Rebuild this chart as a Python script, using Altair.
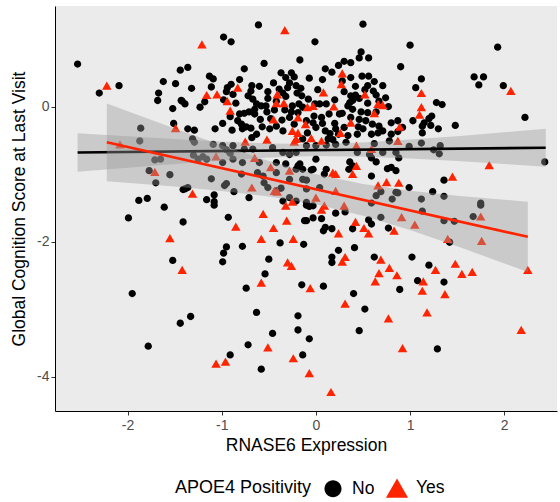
import altair as alt
import pandas as pd

# ---- APOE4 negative ("No") points: (RNASE6 expression, global cognition) ----
no_left = [
    (-2.53, 0.63), (-2.09, 0.31), (-2.30, 0.20), (-1.44, 0.54), (-1.62, 0.37), (-1.49, 0.34), (-1.67, 0.20), (-1.68, 0.09), (-1.43, 0.09), (-1.52, -0.03),
    (-1.51, -0.25), (-1.86, -0.32), (-1.87, -0.51), (-1.71, -0.79), (-1.65, -0.78), (-1.77, -0.95), (-1.55, -1.01), (-1.70, -1.13), (-1.41, -1.23), (-1.88, -1.39),
    (-1.79, -1.36), (-1.61, -1.49), (-1.99, -1.65), (-1.41, -1.71), (-1.52, -2.28), (-1.95, -2.77), (-1.44, -3.21), (-1.78, -3.55), (-1.36, 0.58), (-1.32, 0.27),
    (-1.42, 0.08), (-1.39, 0.04), (-1.23, -0.01), (-1.36, -0.33), (-1.29, -0.35), (-1.31, -0.48), (-1.29, -0.53), (-1.25, -0.78), (-1.30, -0.72), (-1.39, -1.22),
    (-1.36, -1.20), (-1.33, -3.11),
]
no_mid = [
    (-1.18, 0.07), (-1.13, 0.45), (-1.09, 0.41), (-1.11, 0.29), (-0.98, 1.03), (-0.90, 0.96), (-0.61, 1.21), (-0.55, 0.64), (-0.76, 0.56), (-0.81, 0.40),
    (-0.90, 0.33), (-0.94, 0.28), (-0.95, 0.22), (-0.68, 0.31), (-0.69, 0.23), (-0.37, 0.50), (-0.32, 0.43), (-0.26, 0.50), (-0.23, 0.44), (-0.28, 0.35),
    (-0.21, 0.31), (-0.88, 0.18), (-0.51, 0.22), (-0.51, 0.12), (-0.39, 0.26), (-0.35, 0.20), (-0.32, 0.15), (-0.72, 0.16), (-0.67, 0.11), (-0.63, 0.04),
    (-0.65, -0.04), (-0.58, 0.01), (-0.53, 0.01), (-0.52, -0.08), (-0.25, 0.01), (-0.18, 0.04), (-0.26, -0.08), (-0.19, -0.09), (-0.28, -0.16), (-0.81, -0.11),
    (-0.76, -0.10), (-0.71, -0.08), (-0.65, -0.11), (-0.83, -0.21), (-0.79, -0.26), (-0.78, -0.33), (-0.74, -0.30), (-0.69, -0.32), (-0.59, -0.19), (-0.99, -0.25),
    (-1.07, -0.33), (-0.89, -0.35), (-0.91, -0.15), (-0.49, -0.33), (-0.42, -0.29), (-0.23, -0.26), (-0.35, -0.36), (-0.63, -0.41), (-0.68, -0.46), (-1.09, -0.56),
    (-0.99, -0.58), (-0.88, -0.58), (-0.76, -0.63), (-0.67, -0.63), (-0.46, -0.61), (-0.35, -0.68), (-0.28, -0.71), (-0.21, -0.68), (-1.16, -0.78), (-0.88, -0.78),
    (-0.99, -0.83), (-0.78, -0.83), (-0.60, -0.83), (-0.42, -0.83), (-0.19, -0.88), (-0.95, -0.64), (-0.91, -0.69), (-1.20, -0.74), (-0.32, -0.85), (-0.21, -0.93),
    (-0.62, -0.98), (-0.56, -1.03), (-0.42, -0.98), (-1.11, -1.07), (-0.79, -1.00), (-0.28, -1.08), (-0.97, -1.17), (-0.95, -1.14), (-0.87, -1.26), (-0.55, -1.13),
    (-0.51, -1.20), (-0.42, -1.25), (-0.37, -1.21), (-1.08, -1.31), (-1.16, -1.38), (-1.08, -1.41), (-0.71, -1.35), (-0.35, -1.40), (-0.28, -1.35), (-0.21, -1.40),
    (-1.08, -1.46), (-0.93, -1.64), (-0.38, -2.02), (-0.95, -2.08), (-0.98, -2.17), (-0.99, -2.30), (-0.78, -2.07), (-0.50, -2.26), (-0.54, -2.48), (-0.74, -2.69),
    (-0.63, -3.05), (-0.19, -3.10), (-0.19, -3.31), (-0.46, -3.36), (-0.72, -3.53), (-0.91, -3.68), (-0.58, -3.89),
    (-0.45, 0.35), (-0.42, 0.08), (-0.30, 0.28), (-0.20, 0.20), (-0.44, -0.05), (-0.33, -0.05), (-0.48, -0.18), (-0.36, -0.20), (-0.60, 0.30), (-0.57, -0.30),
    (-0.85, 0.05), (-0.98, 0.10),
]
no_center = [
    (-0.12, -1.69), (-0.13, -2.04), (-0.15, -2.64), (-0.14, -3.68), (-0.10, -1.46), (-0.07, -1.48), (-0.10, -1.69), (-0.03, -1.65), (0.06, -1.66), (0.21, -1.58),
    (0.31, -1.56), (0.10, -1.79), (0.08, -1.84), (0.17, -1.81), (0.39, -1.81), (0.56, -1.68), (0.59, -1.74), (0.69, -1.64), (0.24, -2.13), (0.41, -2.09),
    (0.17, -2.23), (0.17, -2.31), (0.62, -2.23), (0.08, -2.66), (0.40, -2.77), (0.52, -3.00), (0.46, -3.32), (-0.07, -3.44),
    (0.50, 1.22), (-0.01, 0.96), (0.48, 0.81), (0.46, 0.72), (0.56, 0.72), (-0.17, 0.69), (0.30, 0.67), (0.37, 0.65), (0.24, 0.61), (0.10, 0.56),
    (0.17, 0.51), (0.49, 0.45), (0.56, 0.45), (0.37, 0.43), (-0.07, 0.42), (0.07, 0.40), (0.62, 0.37), (0.71, 0.31), (0.55, 0.31), (-0.16, 0.27),
    (0.61, 0.23), (0.64, 0.17), (0.67, 0.08), (0.37, 0.16), (0.42, 0.17), (0.46, 0.12), (0.39, 0.09), (0.36, 0.06), (-0.15, 0.16), (-0.08, 0.11),
    (-0.01, 0.04), (0.04, 0.04), (0.11, 0.04), (-0.14, -0.01), (0.34, 0.01), (0.39, -0.04), (0.48, -0.08), (0.55, -0.09), (0.64, -0.08), (0.14, -0.11),
    (0.25, -0.11), (0.28, -0.10), (-0.02, -0.14), (0.06, -0.16), (0.37, -0.16), (0.46, -0.19), (0.53, -0.21), (-0.10, -0.21), (-0.03, -0.24), (0.07, -0.25),
    (0.20, -0.25), (0.60, -0.26), (0.67, -0.29), (0.00, -0.31), (0.10, -0.36), (0.21, -0.33), (0.30, -0.31), (0.50, -0.33), (0.44, -0.41), (-0.09, -0.39),
    (0.24, -0.41), (0.34, -0.43), (0.59, -0.41), (0.66, -0.39), (0.13, -0.48), (0.18, -0.49), (-0.14, -0.48), (0.57, -0.71), (0.32, -0.53), (0.21, -0.56),
    (0.11, -0.57), (0.00, -0.58), (-0.10, -0.58), (0.44, -0.68), (-0.17, -0.85), (0.00, -0.78), (-0.03, -0.93), (0.36, -0.82), (0.39, -0.88), (0.59, -0.76),
    (0.64, -0.82), (0.11, -0.93), (0.09, -1.00), (0.35, -0.93), (-0.14, -0.93), (-0.05, -0.94), (0.59, -1.03), (-0.10, -1.09), (0.04, -1.20), (-0.14, -1.08),
    (-0.10, -1.22), (0.64, -1.32), (-0.10, -1.42), (-0.03, -1.47), (0.69, -1.26), (0.59, -1.43),
    (0.42, 0.30), (0.52, 0.25), (0.30, 0.22), (0.20, 0.10), (0.55, 0.05), (0.45, -0.30), (0.15, -0.40), (0.02, 0.25), (0.28, 0.38), (0.62, -0.55),
]
no_right = [
    (0.77, -1.80), (1.02, -2.23), (1.08, -2.58), (0.89, -2.71), (1.13, -1.55), (1.36, -1.69), (1.47, -1.70), (1.67, -1.63), (1.75, -1.46), (1.42, -2.01),
    (1.20, -2.35), (1.36, -2.60), (1.29, -3.59), (1.93, 0.88), (1.68, 0.44), (1.78, 0.44), (1.73, 0.32), (1.99, 0.31), (1.12, 0.41), (1.28, 0.06),
    (1.34, 0.03), (2.22, -0.16), (1.23, -0.14), (1.20, -0.18), (1.15, -0.24), (1.13, -0.29), (1.22, -0.28), (1.13, -0.39), (1.30, -0.33), (1.48, -0.28),
    (1.12, -0.54), (1.25, -0.64), (1.32, -0.58), (1.31, -0.70), (2.43, -0.82), (1.36, -1.09), (1.24, -1.26), (1.36, -1.33), (1.12, -1.37), (1.75, -1.43),
    (1.00, 0.91), (0.90, 0.59), (1.06, 0.28), (0.74, 0.13), (0.77, 0.00), (0.80, -0.24), (0.87, -0.21), (1.03, -0.21), (0.71, -0.36), (0.92, -0.31),
    (0.80, -0.41), (0.87, -0.37), (0.78, -0.51), (0.99, -0.59), (0.85, -0.68), (0.88, -0.76), (0.71, -0.68), (0.76, -0.92), (0.80, -0.90), (0.85, -0.95),
    (0.99, -1.20), (0.81, -1.37), (0.85, -1.27), (0.87, -1.28),
]

# ---- APOE4 positive ("Yes") points ----
yes_left = [
    (-2.22, 0.31), (-2.08, -0.56), (-1.49, -0.32), (-1.71, -0.97), (-1.55, -1.95), (-1.42, -2.42), (-1.21, 0.92), (-0.33, 1.13), (-1.16, 0.17), (-1.05, 0.18),
    (-0.83, 0.28), (-0.94, 0.08), (-0.91, -0.06), (-0.41, 0.18), (-0.42, 0.05), (-0.34, 0.05), (-0.45, -0.19), (-0.19, -0.16), (-0.52, -0.49), (-0.75, -0.52),
    (-0.25, -0.36), (-0.19, -0.39), (-0.21, -0.48), (-0.23, -0.52), (-1.06, -0.74), (-0.65, -0.76), (-0.48, -0.90), (-0.28, -0.95), (-0.68, -1.20), (-0.44, -1.25),
    (-0.41, -1.26), (-1.31, -1.29), (-0.32, -1.47), (-0.25, -1.41), (-0.85, -1.78), (-0.56, -1.59), (-0.31, -1.69), (-0.45, -1.80), (-0.58, -1.96), (-0.24, -1.96),
    (-0.30, -2.31), (-0.26, -2.36), (-0.58, -2.61), (-0.51, -3.57), (-1.06, -3.81), (-0.96, -3.78), (-0.24, -3.73),
]
yes_right = [
    (0.06, -1.53), (0.24, -1.88), (0.42, -1.71), (0.51, -1.80), (0.56, -1.88), (0.83, -1.84), (0.91, -1.64), (1.05, -1.75), (0.31, -2.23), (0.28, -2.30),
    (0.69, -2.27), (0.78, -2.39), (0.67, -2.47), (0.86, -2.50), (0.63, -2.59), (-0.06, -2.69), (1.13, -2.73), (0.31, -2.92), (0.77, -3.14), (0.92, -3.58),
    (-0.07, -3.95), (0.16, -4.23),
    (1.75, -1.63), (1.40, -1.96), (1.76, -1.99), (2.25, -2.42), (1.27, -2.42), (1.48, -2.33), (1.55, -2.48), (1.66, -2.45), (1.14, -2.59), (1.37, -2.78),
    (1.18, -3.05), (2.18, -3.31),
    (2.07, 0.23), (1.12, 0.20), (1.12, -0.01), (1.10, -0.12), (1.84, -0.87), (1.45, -1.04),
    (0.28, 0.49), (0.27, 0.33), (0.08, 0.21), (0.52, 0.18), (0.66, 0.04), (0.71, 0.02), (-0.03, 0.01), (-0.09, -0.01), (0.19, 0.00), (0.62, -0.10),
    (-0.11, -0.26), (0.37, -0.24), (0.89, -0.30), (0.26, -0.39), (-0.05, -0.47), (0.06, -0.51), (0.87, -0.51), (0.59, -0.63), (0.43, -0.58), (0.43, -0.88),
    (0.39, -1.00), (0.18, -0.98), (0.21, -1.00), (0.66, -1.17), (0.75, -1.12), (0.88, -1.13), (0.00, -1.35), (0.09, -1.47), (0.30, -1.47), (0.21, -1.25),
]

# ---- linear fits ----
fit_no_x = [-2.53, 2.44]
fit_no_y = [-0.68, -0.61]
fit_yes_x = [-2.22, 2.25]
fit_yes_y = [-0.53, -1.93]

# ---- 95% confidence bands ----
band_no_x = [-2.53, -2.0, -1.5, -1.0, -0.5, 0.0, 0.5, 1.0, 1.5, 2.0, 2.44]
band_no_lo = [-0.965, -0.907, -0.850, -0.799, -0.756, -0.734, -0.742, -0.771, -0.808, -0.850, -0.89]
band_no_hi = [-0.395, -0.439, -0.480, -0.517, -0.546, -0.554, -0.532, -0.489, -0.438, -0.382, -0.33]
band_yes_x = [-2.22, -1.5, -1.0, -0.5, 0.0, 0.5, 1.0, 1.5, 2.25]
band_yes_lo = [-1.105, -1.185, -1.251, -1.333, -1.447, -1.616, -1.830, -2.069, -2.45]
band_yes_hi = [0.045, -0.325, -0.573, -0.805, -1.003, -1.148, -1.248, -1.321, -1.41]

groups = ["No", "Yes"]
colors = ["#000000", "#FF2300"]
# unit circle, and a triangle about 1.28x as wide (as ggplot draws shape 17 vs 16)
shapes = ["M1,0A1,1,0,1,1,-1,0A1,1,0,1,1,1,0", "M0,-1.15L1.3,1.1L-1.3,1.1Z"]

rows = []
for pts in (no_left, no_mid, no_center, no_right):
    for x, y in pts:
        rows.append({"x": x, "y": y, "APOE4 Positivity": "No"})
for pts in (yes_left, yes_right):
    for x, y in pts:
        rows.append({"x": x, "y": y, "APOE4 Positivity": "Yes"})
pts_df = pd.DataFrame(rows)

band_no = pd.DataFrame({"x": band_no_x, "lo": band_no_lo, "hi": band_no_hi})
band_yes = pd.DataFrame({"x": band_yes_x, "lo": band_yes_lo, "hi": band_yes_hi})
fit_no = pd.DataFrame({"x": fit_no_x, "y": fit_no_y})
fit_yes = pd.DataFrame({"x": fit_yes_x, "y": fit_yes_y})

xscale = alt.Scale(domain=[-2.77, 2.56], nice=False, zero=False)
yscale = alt.Scale(domain=[-4.51, 1.49], nice=False, zero=False)

FONT = "Liberation Sans"

xaxis = alt.Axis(title="RNASE6 Expression", values=[-2, -1, 0, 1, 2], labelExpr="'' + datum.value",
                 grid=False, domainColor="#000000", domainWidth=1, tickColor="#333333", tickSize=4,
                 labelColor="#4D4D4D", labelFontSize=14, labelPadding=3, titleFontSize=17.5,
                 titleFontWeight="normal", titleColor="#000000", titlePadding=4, labelFont=FONT, titleFont=FONT)
yaxis = alt.Axis(title="Global Cognition Score at Last Visit", values=[-4, -2, 0], labelExpr="'' + datum.value",
                 grid=False, domainColor="#000000", domainWidth=1, tickColor="#333333", tickSize=4,
                 labelColor="#4D4D4D", labelFontSize=14, labelPadding=2, titleFontSize=17.5,
                 titleFontWeight="normal", titleColor="#000000", titlePadding=8, labelFont=FONT, titleFont=FONT)

legend = alt.Legend(
    title="APOE4 Positivity", orient="none", legendX=120, legendY=473, direction="horizontal",
    titleOrient="left", titleFontSize=18, titleFontWeight="normal", titleColor="#000000", titleFont=FONT,
    titlePadding=12, labelFontSize=17.5, labelColor="#000000", labelFont=FONT, labelOffset=10,
    columnPadding=10, symbolSize=290, symbolStrokeWidth=0,
)

points = alt.Chart(pts_df).mark_point(filled=True, opacity=1, strokeWidth=0).encode(
    x=alt.X("x:Q", scale=xscale, axis=xaxis),
    y=alt.Y("y:Q", scale=yscale, axis=yaxis),
    color=alt.Color("APOE4 Positivity:N", scale=alt.Scale(domain=groups, range=colors), legend=legend),
    shape=alt.Shape("APOE4 Positivity:N", scale=alt.Scale(domain=groups, range=shapes), legend=legend),
    size=alt.value(53),
)

def band(df):
    return alt.Chart(df).mark_area(color="#999999", opacity=0.4).encode(
        x=alt.X("x:Q", scale=xscale), y=alt.Y("lo:Q", scale=yscale), y2="hi:Q")

def fit(df, col):
    return alt.Chart(df).mark_line(color=col, strokeWidth=2.6).encode(
        x=alt.X("x:Q", scale=xscale), y=alt.Y("y:Q", scale=yscale))

chart = alt.layer(
    points,
    band(band_no), fit(fit_no, "#000000"),
    band(band_yes), fit(fit_yes, "#FF2300"),
).properties(
    width=502, height=405,
    autosize=alt.AutoSizeParams(type="none"),
    padding={"left": 55, "top": 6, "right": 3, "bottom": 91},
    background="#FFFFFF",
).configure_view(fill="#EBEBEB", stroke=None)

chart.save("out.html", embed_options={"renderer": "svg", "actions": False})
